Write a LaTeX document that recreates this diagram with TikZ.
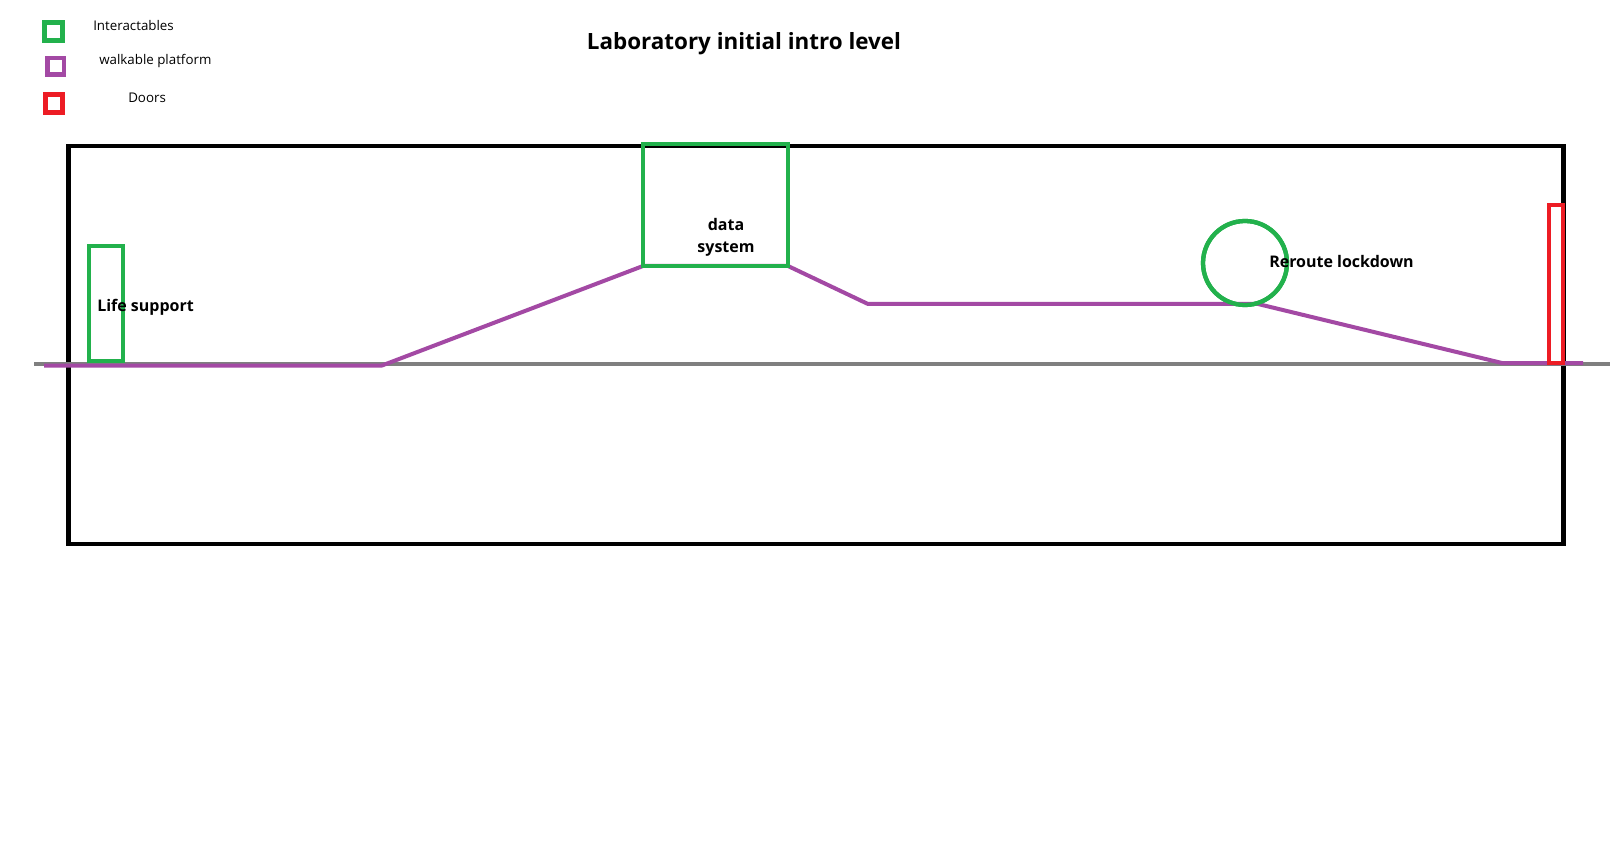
\documentclass[tikz,border=0pt]{standalone}
\usepackage{fontspec}
\setmainfont{Open Sans}
\newfontfamily\legendfont{Open Sans}
\definecolor{pgreen}{HTML}{22B14C}
\definecolor{ppurple}{HTML}{A349A4}
\definecolor{pred}{HTML}{ED1C24}
\definecolor{pgray}{HTML}{7F7F7F}
\tikzset{
  legendbox/.style={draw, inner sep=0pt, outer sep=0pt},
  interact/.style={draw=pgreen, line width=3.2pt, inner sep=0pt, outer sep=0pt},
  doorbox/.style={draw=pred, line width=3pt, inner sep=0pt, outer sep=0pt},
  platform/.style={draw=ppurple, line width=3pt, line join=round},
  ground/.style={draw=pgray, line width=3pt},
  frame/.style={draw=black, line width=3.4pt},
  lbl/.style={font=\bfseries\fontsize{12}{14}\selectfont, inner sep=0pt},
  legtxt/.style={font=\legendfont\fontsize{10}{11}\selectfont, inner sep=0pt, anchor=base west},
}
\begin{document}
\begin{tikzpicture}[x=0.75pt,y=-0.75pt]
\useasboundingbox (0,0) rectangle (1619,848);
\fill[white] (0,0) rectangle (1619,848);

% legend
\node[legendbox, draw=pgreen, line width=3.75pt, minimum width=13.5pt, minimum height=13.5pt] (lgI) at (53.5,32) {};
\node[legendbox, draw=ppurple, line width=3.4pt, minimum width=12.4pt, minimum height=12.4pt] (lgW) at (55.5,66.5) {};
\node[legendbox, draw=pred, line width=3.75pt, minimum width=12.8pt, minimum height=12.8pt] (lgD) at (54,103.5) {};
\node[legtxt] (tI) at (93,30.7) {Interactables};
\node[legtxt] (tW) at (99,65) {walkable platform};
\node[legtxt] (tD) at (128,102.7) {Doors};

% title
\node[font=\bfseries\fontsize{16.8}{20}\selectfont, inner sep=0pt, anchor=base] (title) at (744,49.5) {Laboratory initial intro level};

% frame
\draw[frame] (68.5,146) rectangle (1563.5,544);

% ground line
\coordinate (g1) at (34,363.5);
\coordinate (g2) at (1610,363.5);
\draw[ground] (g1) -- (g2);

% interactables
\node[interact, minimum width=25.5pt, minimum height=86.25pt] (life) at (106,303.5) {};
\node[interact, minimum width=108.75pt, minimum height=91.5pt] (data) at (715.5,205) {};
\node[interact, circle, minimum size=63pt] (reroute) at (1245,263) {};

% platform
\coordinate (p0) at (44,365.5);
\coordinate (p1) at (382,365.5);
\coordinate (p4) at (868,304);
\coordinate (p5) at (1258,304);
\coordinate (p6) at (1502,363);
\coordinate (p7) at (1583,363);
\draw[platform] (p0) -- (p1) -- (data.south west) -- (data.south east) -- (p4) -- (p5) -- (p6) -- (p7);

% redraw boxes on top of platform
\node[interact, minimum width=25.5pt, minimum height=86.25pt] at (106,303.5) {};
\node[interact, minimum width=108.75pt, minimum height=91.5pt] at (715.5,205) {};
\node[interact, circle, minimum size=63pt] at (1245,263) {};

% door
\node[doorbox, minimum width=10.5pt, minimum height=118.5pt] (door) at (1556,284) {};

% labels
\node[lbl, anchor=base west] (tlife) at (97,311) {Life support};
\node[lbl, anchor=base] (tdata1) at (726,231) {data};
\node[lbl, anchor=base] (tdata2) at (726,253) {system};
\node[lbl, anchor=base west] (treroute) at (1269,268) {Reroute lockdown};
\end{tikzpicture}
\end{document}
